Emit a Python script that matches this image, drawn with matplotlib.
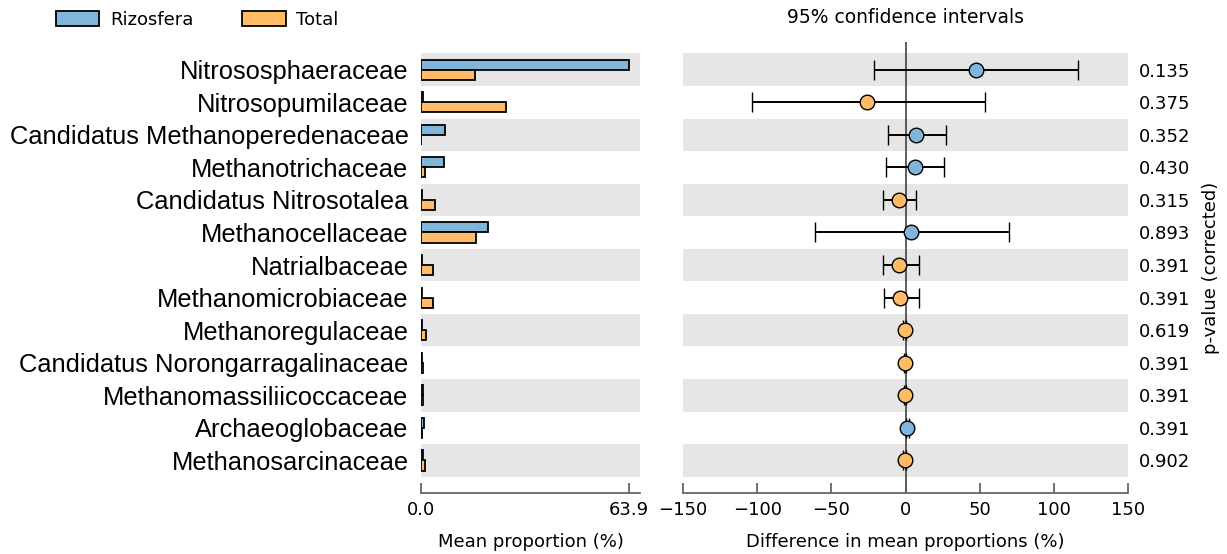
import numpy as np
import matplotlib
matplotlib.use("Agg")
import matplotlib.pyplot as plt
from matplotlib.patches import Patch

# Taxa (top to bottom)
taxa = [
    "Nitrososphaeraceae",
    "Nitrosopumilaceae",
    "Candidatus Methanoperedenaceae",
    "Methanotrichaceae",
    "Candidatus Nitrosotalea",
    "Methanocellaceae",
    "Natrialbaceae",
    "Methanomicrobiaceae",
    "Methanoregulaceae",
    "Candidatus Norongarragalinaceae",
    "Methanomassiliicoccaceae",
    "Archaeoglobaceae",
    "Methanosarcinaceae",
]

# Mean proportions (%) per group
rizosfera = [63.9, 0.5, 7.3, 7.2, 0.3, 20.6, 0.3, 0.3, 0.4, 0.4, 0.5, 0.8, 0.5]
total = [16.6, 26.1, 0.1, 1.3, 4.2, 17.0, 3.8, 3.8, 1.4, 0.7, 0.7, 0.3, 1.3]

# Difference in mean proportions (%) with 95% confidence interval bounds
diff = [47.8, -25.8, 7.4, 6.3, -4.1, 3.6, -4.1, -3.9, -0.6, -0.4, -0.3, 1.2, -0.6]
ci_low = [-20.9, -103.8, -12.1, -13.3, -14.9, -61.3, -14.9, -14.8, -1.5, -1.2, -1.2, 0.3, -1.5]
ci_high = [116.4, 53.9, 27.0, 25.8, 7.3, 69.6, 9.0, 9.2, 0.3, 0.4, 0.6, 2.1, 0.3]

# Corrected p-values
p_values = [0.135, 0.375, 0.352, 0.430, 0.315, 0.893, 0.391, 0.391, 0.619, 0.391, 0.391, 0.391, 0.902]

group_names = ["Rizosfera", "Total"]
xticks_prop = [0.0, 63.9]
xticks_diff = [-150, -100, -50, 0, 50, 100, 150]

BLUE = "#82b5da"
ORANGE = "#ffbb66"
BAND = "#e6e6e6"
SPINE = "#5a5a5a"

W, H = 1227, 554
fig = plt.figure(figsize=(W / 100, H / 100), dpi=100)
plt.rcParams["font.family"] = ["DejaVu Sans"]

ax1 = fig.add_axes([421 / W, 1 - 493 / H, 219 / W, 451 / H])
ax2 = fig.add_axes([683 / W, 1 - 493 / H, 445 / W, 451 / H])

n = len(taxa)
y = np.arange(n)
ylim = (13.0, -0.85)

for ax in (ax1, ax2):
    ax.set_ylim(*ylim)
    for i in range(0, n, 2):
        ax.axhspan(i - 0.5, i + 0.5, color=BAND, lw=0, zorder=0)
    for s in ("top", "right", "left"):
        ax.spines[s].set_visible(False)
    ax.spines["bottom"].set_color(SPINE)
    ax.spines["bottom"].set_linewidth(1.2)
    ax.tick_params(axis="x", direction="in", length=7, width=1.2, color=SPINE,
                   labelsize=13, pad=6)

# Left panel: mean proportions
bh = 0.31
ax1.barh(y - bh / 2, rizosfera, height=bh, color=BLUE, edgecolor="black",
         linewidth=1.3, zorder=2)
ax1.barh(y + bh / 2, total, height=bh, color=ORANGE, edgecolor="black",
         linewidth=1.3, zorder=2)
ax1.set_xlim(0, 63.9 * 219 / 208)
ax1.set_xticks(xticks_prop)
ax1.set_xticklabels(["%.1f" % v for v in xticks_prop])
ax1.set_yticks(y)
ax1.set_yticklabels(taxa, fontfamily="Liberation Sans", fontsize=18.4)
ax1.tick_params(axis="y", length=0, pad=9)
ax1.set_xlabel("Mean proportion (%)", fontsize=13, labelpad=10)

# Right panel: differences with confidence intervals
ax2.axvline(0, color="#333333", lw=1.1, zorder=1)
for i in range(n):
    c = BLUE if diff[i] > 0 else ORANGE
    ax2.errorbar(diff[i], y[i],
                 xerr=[[diff[i] - ci_low[i]], [ci_high[i] - diff[i]]],
                 fmt="o", ms=10.5, mfc=c, mec="black", mew=1.0,
                 ecolor="black", elinewidth=1.4, capsize=7, capthick=1.4,
                 zorder=3)
ax2.set_xlim(-150, 150)
ax2.set_xticks(xticks_diff)
ax2.set_yticks([])
ax2.set_xlabel("Difference in mean proportions (%)", fontsize=13, labelpad=10)
ax2.set_title("95% confidence intervals", fontsize=13.5, pad=14)

# p-values on the right
ax3 = ax2.twinx()
ax3.set_ylim(*ylim)
ax3.set_yticks(y)
ax3.set_yticklabels(["%.3f" % p for p in p_values], fontsize=13)
ax3.tick_params(axis="y", length=0, pad=8)
for s in ax3.spines.values():
    s.set_visible(False)
ax3.set_ylabel("p-value (corrected)", fontsize=13, labelpad=8)

# Legend
handles = [Patch(facecolor=BLUE, edgecolor="black", linewidth=1.3, label=group_names[0]),
           Patch(facecolor=ORANGE, edgecolor="black", linewidth=1.3, label=group_names[1])]
fig.legend(handles=handles, loc="center left", bbox_to_anchor=(56 / W, 1 - 20 / H),
           ncol=2, frameon=False, fontsize=13, handlelength=2.4, handleheight=0.9,
           handletextpad=0.6, columnspacing=2.7, borderpad=0, borderaxespad=0)

fig.savefig("out.png", dpi=100)
